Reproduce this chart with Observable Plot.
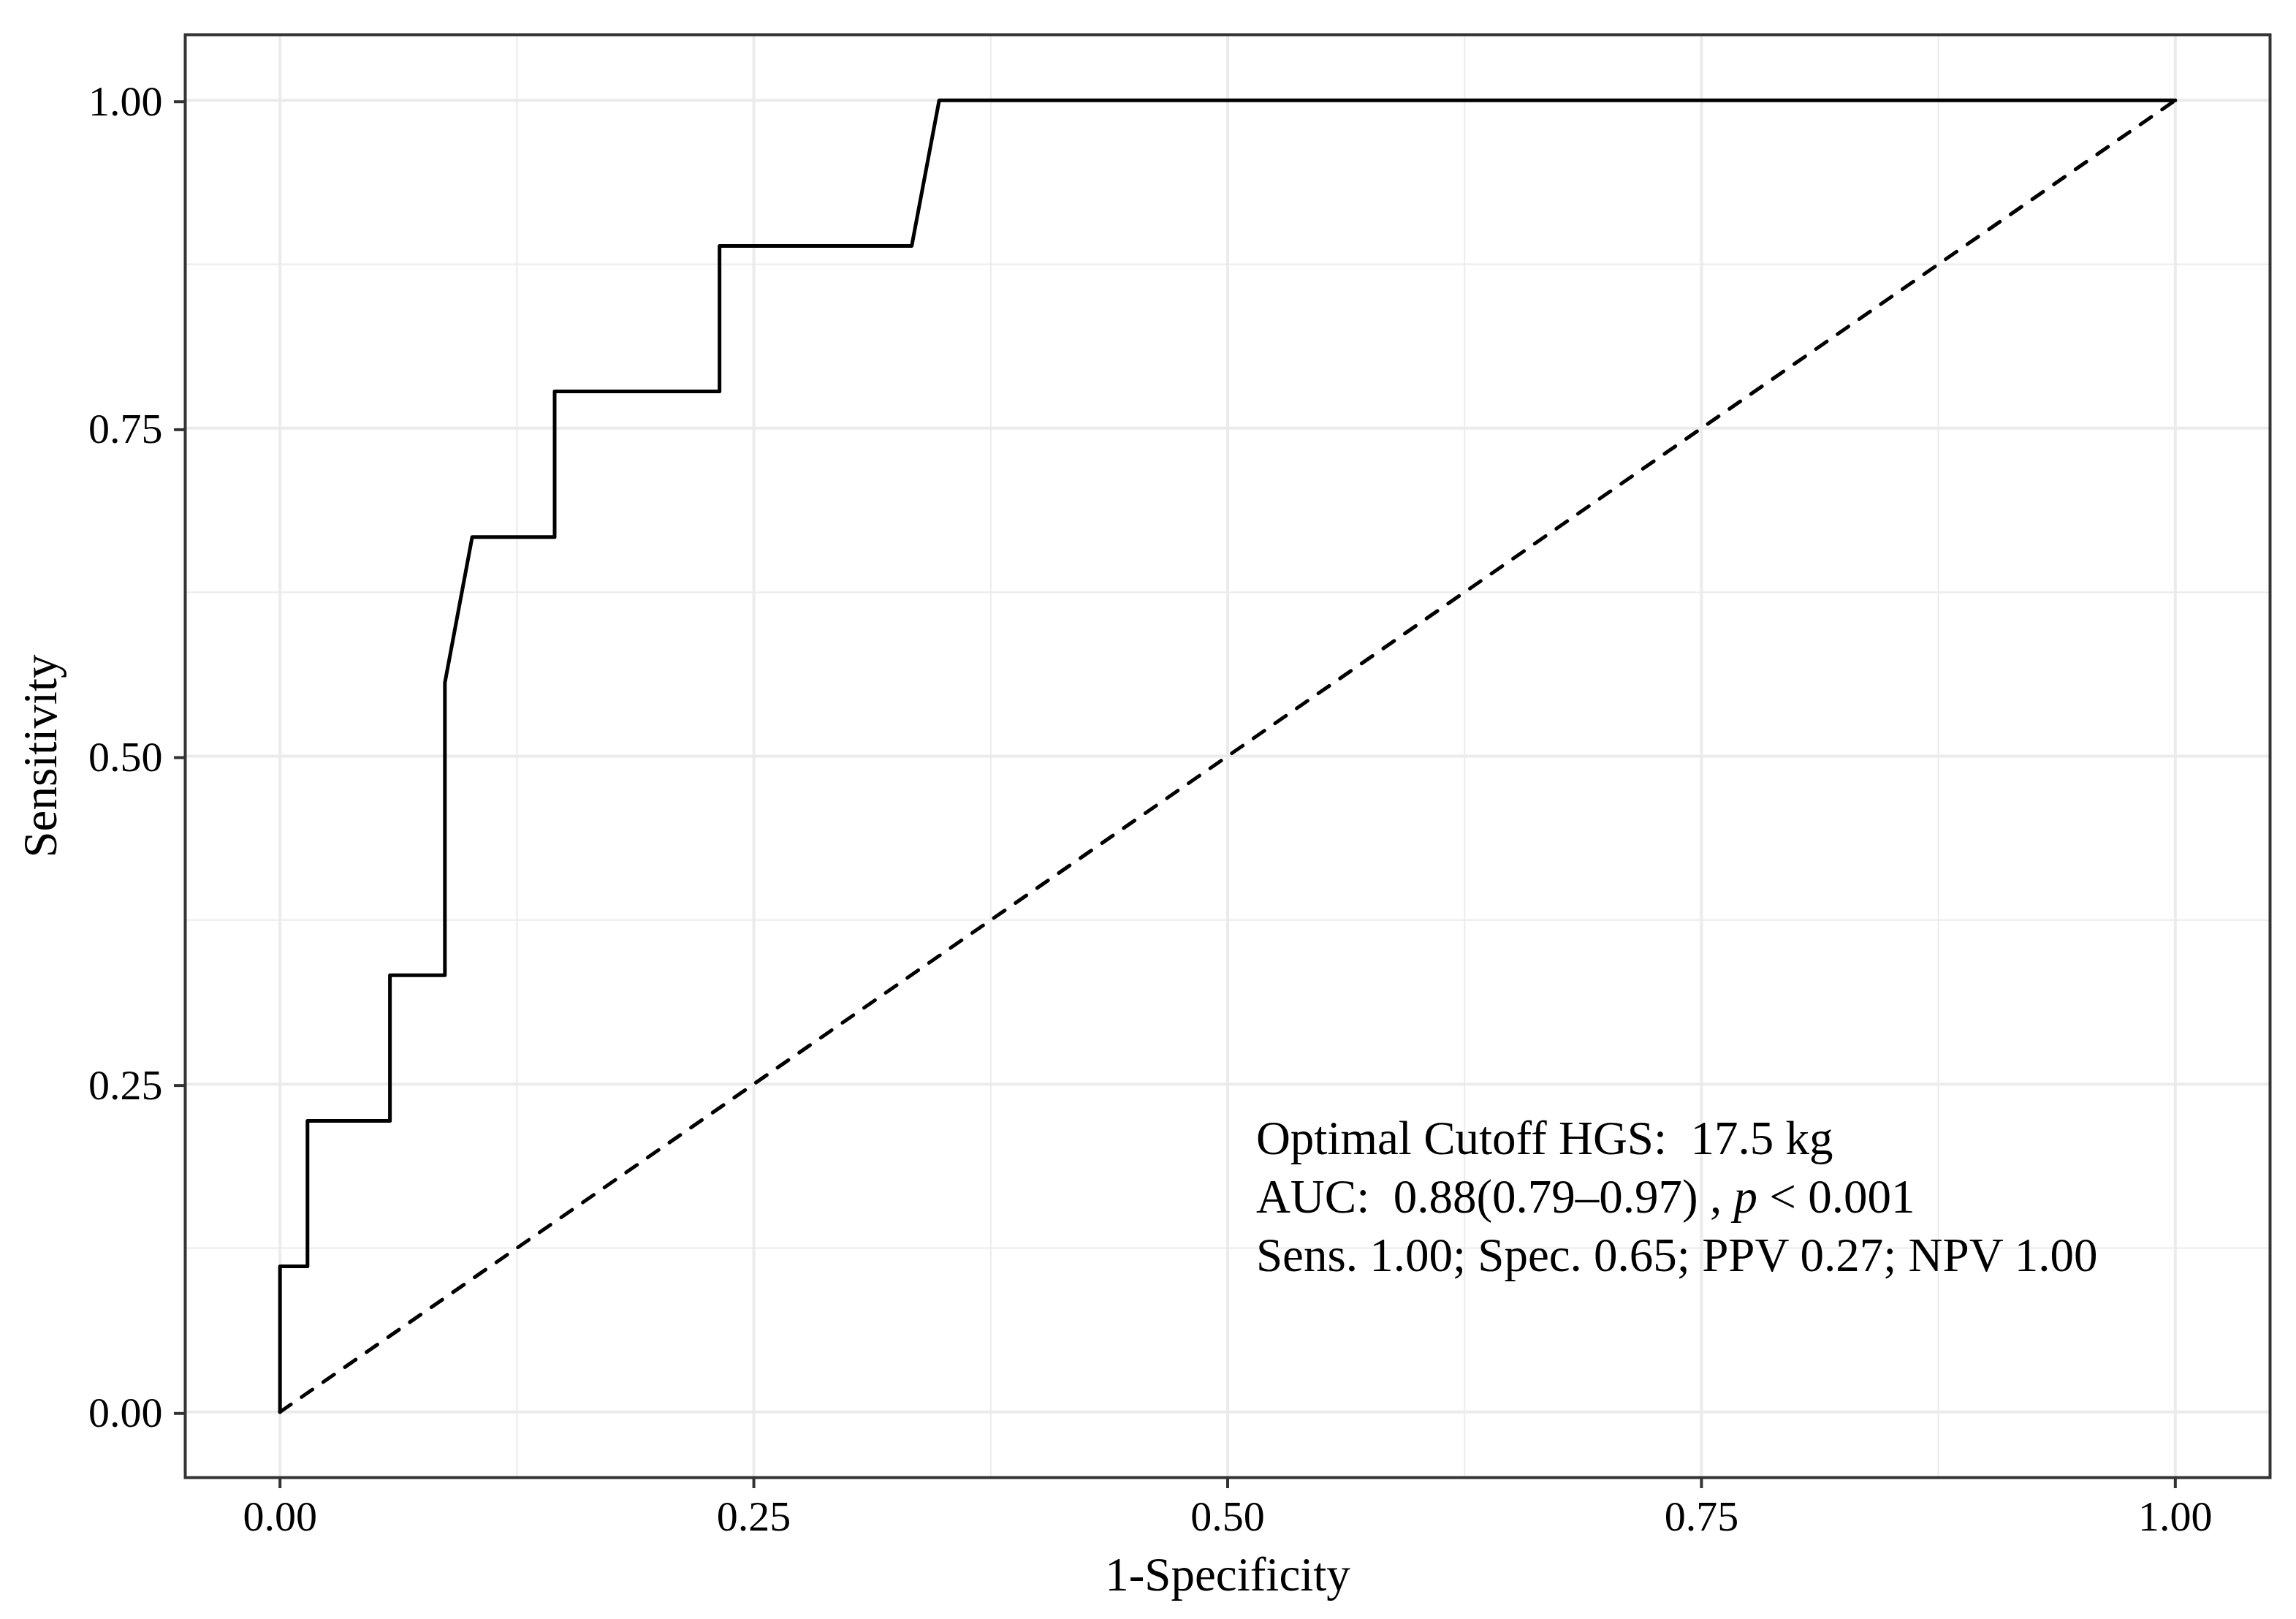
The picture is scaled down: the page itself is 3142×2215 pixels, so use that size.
<!DOCTYPE html>
<html>
<head>
<meta charset="utf-8">
<script src="https://cdn.jsdelivr.net/npm/d3@7"></script>
<script src="https://cdn.jsdelivr.net/npm/@observablehq/plot@0.6"></script>
<style>
  html, body { margin: 0; padding: 0; background: #ffffff; }
  svg text { white-space: pre; }
</style>
</head>
<body>
<div id="chart"></div>
<script>
// ROC curve: 1-Specificity (false positive rate) and Sensitivity (true positive rate)
const fpr = [0, 0, 0.0145, 0.0145, 0.058, 0.058, 0.087, 0.087, 0.1014, 0.1449, 0.1449, 0.2319, 0.2319, 0.3333, 0.3478, 1.0];
const tpr = [0, 0.111, 0.111, 0.222, 0.222, 0.333, 0.333, 0.556, 0.667, 0.667, 0.778, 0.778, 0.889, 0.889, 1.0, 1.0];

// Reference (chance) line
const refX = [0, 1];
const refY = [0, 1];

// Axis ticks
const majorTicks = [0, 0.25, 0.5, 0.75, 1];
const minorTicks = [0.125, 0.375, 0.625, 0.875];
const xTitle = "1-Specificity";
const yTitle = "Sensitivity";

// Annotation
const annotationLines = [
  "Optimal Cutoff HGS:\u00a0 17.5 kg",
  "AUC:\u00a0 0.88(0.79\u20130.97) , p < 0.001",
  "Sens. 1.00; Spec. 0.65; PPV 0.27; NPV 1.00"
];
const annotationX = 0.515;
const annotationY = 0.1076;

const roc = fpr.map((x, i) => ({x, y: tpr[i]}));
const ref = refX.map((x, i) => ({x, y: refY[i]}));

const FONT = "'Liberation Serif', 'Times New Roman', Times, serif";

const svg = Plot.plot({
  width: 3142,
  height: 2215,
  marginLeft: 253,
  marginRight: 36,
  marginTop: 47,
  marginBottom: 194,
  style: {fontFamily: FONT, background: "#ffffff", color: "#000000"},
  x: {domain: [-0.05, 1.05]},
  y: {domain: [-0.05, 1.05]},
  marks: [
    Plot.gridX(minorTicks, {stroke: "#EBEBEB", strokeOpacity: 1, strokeWidth: 2}),
    Plot.gridY(minorTicks, {stroke: "#EBEBEB", strokeOpacity: 1, strokeWidth: 2}),
    Plot.gridX(majorTicks, {stroke: "#EBEBEB", strokeOpacity: 1, strokeWidth: 4}),
    Plot.gridY(majorTicks, {stroke: "#EBEBEB", strokeOpacity: 1, strokeWidth: 4}),
    Plot.line(ref, {x: "x", y: "y", stroke: "#000000", strokeWidth: 5, strokeDasharray: "18,18"}),
    Plot.line(roc, {x: "x", y: "y", stroke: "#000000", strokeWidth: 5, strokeLinejoin: "round"}),
    Plot.frame({stroke: "#333333", strokeWidth: 4}),
    Plot.axisX(majorTicks, {
      tickSize: 15, tickPadding: 16, fontSize: 58,
      tickFormat: d3.format(".2f"), stroke: "#333333", strokeWidth: 4,
      fill: "#000000", label: null
    }),
    Plot.axisY(majorTicks, {
      tickSize: 15, tickPadding: 16, fontSize: 58, dy: 2,
      tickFormat: d3.format(".2f"), stroke: "#333333", strokeWidth: 4,
      fill: "#000000", label: null
    }),
    Plot.text([xTitle], {
      frameAnchor: "bottom", text: d => d, fontSize: 65, lineAnchor: "bottom",
      textAnchor: "middle", dy: 154, fill: "#000000"
    }),
    Plot.text([yTitle], {
      frameAnchor: "left", text: d => d, fontSize: 65, lineAnchor: "bottom",
      textAnchor: "middle", rotate: -90, dx: -177, fill: "#000000"
    }),
    Plot.text([annotationLines.join("\n")], {
      x: () => annotationX, y: () => annotationY, text: d => d,
      fontSize: 65, lineHeight: 1.23, lineAnchor: "bottom", textAnchor: "start",
      fill: "#000000"
    })
  ]
});

// Italicise the "p" in the AUC line
d3.select(svg).selectAll("tspan, text")
  .filter(function () { return this.childElementCount === 0 && this.textContent.startsWith("AUC:"); })
  .each(function () {
    const full = this.textContent;
    const idx = full.lastIndexOf(" p ");
    const before = full.slice(0, idx + 1);
    const after = full.slice(idx + 2);
    this.textContent = "";
    this.appendChild(document.createTextNode(before));
    const it = document.createElementNS("http://www.w3.org/2000/svg", "tspan");
    it.setAttribute("font-style", "italic");
    it.textContent = "p";
    this.appendChild(it);
    this.appendChild(document.createTextNode(after));
  });

document.getElementById("chart").appendChild(svg);
</script>
</body>
</html>
